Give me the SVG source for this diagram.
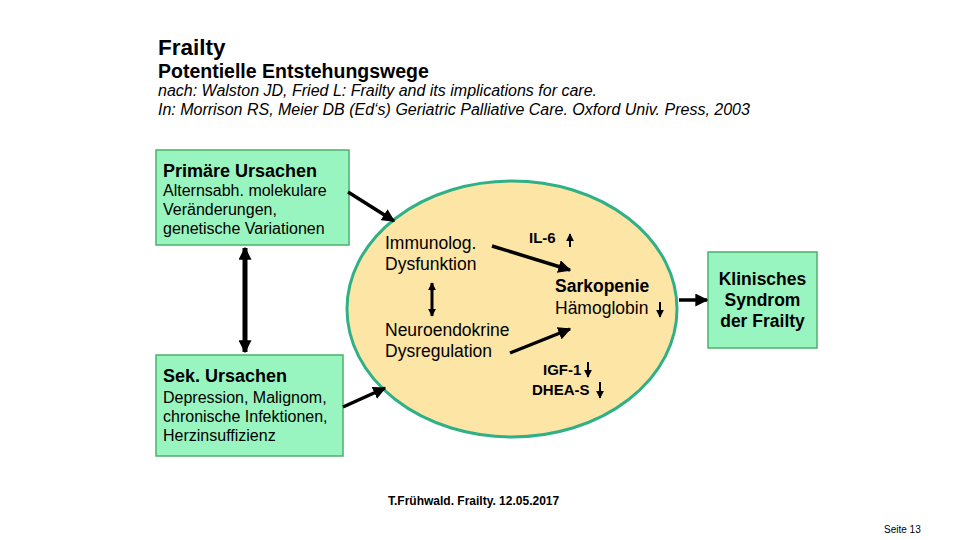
<svg xmlns="http://www.w3.org/2000/svg" width="960" height="540" viewBox="0 0 960 540">
<style>
text{font-family:"Liberation Sans",Arial,sans-serif;fill:#000}
.b{font-weight:bold}
.it{font-style:italic;font-size:16px}
.box{fill:#99f5bf;stroke:#4cb06c;stroke-width:1.5}
.body{font-size:16px}
.ttl{font-size:18px;font-weight:bold}
.in{font-size:17.5px}
.sm{font-size:15px;font-weight:bold}
.con{stroke:#000;fill:none}
.thick{stroke-width:3.5}
.thin{stroke-width:2}
</style>
<defs>
<marker id="ah" viewBox="0 0 10 10" refX="9" refY="5" markerWidth="13" markerHeight="13" markerUnits="userSpaceOnUse" orient="auto-start-reverse">
<path d="M0,0 L10,5 L0,10 z" fill="#000"/>
</marker>
<marker id="ahs" viewBox="0 0 10 10" refX="9" refY="5" markerWidth="8" markerHeight="8" markerUnits="userSpaceOnUse" orient="auto-start-reverse">
<path d="M0,0 L10,5 L0,10 z" fill="#000"/>
</marker>
</defs>
<rect width="960" height="540" fill="#fff"/>
<g id="header">
<text x="158" y="55" class="b" font-size="22.5">Frailty</text>
<text x="158" y="78" class="b" font-size="19.5">Potentielle Entstehungswege</text>
<text x="158" y="96" class="it">nach: Walston JD, Fried L: Frailty and its implications for care.</text>
<text x="158" y="115" class="it">In: Morrison RS, Meier DB (Ed‘s) Geriatric Palliative Care. Oxford Univ. Press, 2003</text>
</g>
<g id="primaer">
<rect class="box" x="156" y="150" width="193" height="95"/>
<text x="163" y="177" class="ttl">Primäre Ursachen</text>
<text x="163" y="196" class="body">Alternsabh. molekulare</text>
<text x="163" y="215" class="body">Veränderungen,</text>
<text x="163" y="234" class="body">genetische Variationen</text>
</g>
<g id="sekundaer">
<rect class="box" x="156" y="355" width="187" height="101"/>
<text x="163" y="382" class="ttl">Sek. Ursachen</text>
<text x="163" y="403" class="body">Depression, Malignom,</text>
<text x="163" y="422" class="body">chronische Infektionen,</text>
<text x="163" y="441" class="body">Herzinsuffizienz</text>
</g>
<g id="mechanismen">
<ellipse cx="512" cy="309" rx="165" ry="128" fill="#fde5a6" stroke="#2fb087" stroke-width="3"/>
<text x="385" y="249" class="in">Immunolog.</text>
<text x="385" y="270" class="in">Dysfunktion</text>
<text x="385" y="336" class="in">Neuroendokrine</text>
<text x="385" y="357" class="in">Dysregulation</text>
<text x="529" y="243" class="sm">IL-6</text>
<text x="555" y="292" class="in b">Sarkopenie</text>
<text x="555" y="314" class="in">Hämoglobin</text>
<text x="543" y="375" class="sm">IGF-1</text>
<text x="532" y="395" class="sm">DHEA-S</text>
</g>
<g id="klinisch">
<rect class="box" x="708" y="252" width="109" height="96"/>
<text x="762.5" y="285" class="in b" text-anchor="middle">Klinisches</text>
<text x="762.5" y="306" class="in b" text-anchor="middle">Syndrom</text>
<text x="762.5" y="327" class="in b" text-anchor="middle">der Frailty</text>
</g>
<g id="connectors">
<line class="con" x1="245" y1="248" x2="245" y2="352" stroke-width="5" marker-start="url(#ah)" marker-end="url(#ah)"/>
<line class="con thick" x1="348" y1="192" x2="394" y2="221" marker-end="url(#ah)"/>
<line class="con thick" x1="343" y1="407" x2="385" y2="388" marker-end="url(#ah)"/>
<line class="con thick" x1="679" y1="300" x2="707" y2="300" marker-end="url(#ah)"/>
<line class="con thick" x1="492" y1="246" x2="570" y2="270" marker-end="url(#ah)"/>
<line class="con thick" x1="510" y1="353" x2="570" y2="329" marker-end="url(#ah)"/>
<line class="con" stroke-width="3" x1="432" y1="283" x2="432" y2="316" marker-start="url(#ahs)" marker-end="url(#ahs)"/>
<line class="con thin" x1="570" y1="247" x2="570" y2="234" marker-end="url(#ahs)"/>
<line class="con thin" x1="660" y1="302" x2="660" y2="317" marker-end="url(#ahs)"/>
<line class="con thin" x1="588" y1="362" x2="588" y2="377" marker-end="url(#ahs)"/>
<line class="con thin" x1="600" y1="382" x2="600" y2="398" marker-end="url(#ahs)"/>
</g>
<g id="footer">
<text x="388" y="505" class="b" font-size="12">T.Frühwald. Frailty. 12.05.2017</text>
<text x="884" y="533" font-size="10">Seite 13</text>
</g>
</svg>
